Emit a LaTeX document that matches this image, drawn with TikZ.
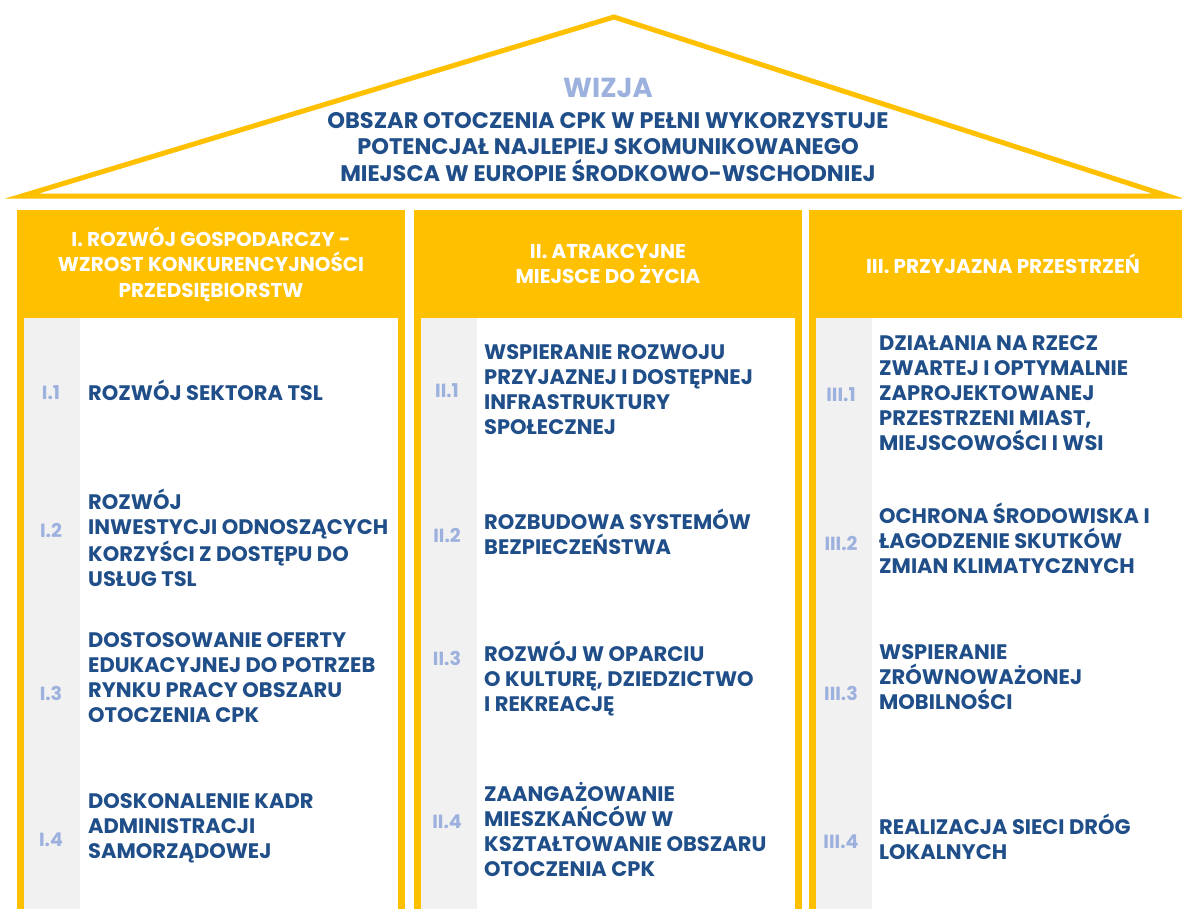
\documentclass[tikz,border=0pt]{standalone}
\usepackage{fontspec}
\setmainfont{Poppins}
\usepackage{tikz}

\definecolor{cpkyellow}{HTML}{FFC000}
\definecolor{cpkblue}{HTML}{1F4E89}
\definecolor{cpklight}{HTML}{9DB1DE}
\definecolor{cpkgray}{HTML}{F1F1F1}

\begin{document}
\begin{tikzpicture}[x=1pt,y=-1pt,%
        head/.style={fill=cpkyellow, text=white, align=center,%
                        inner sep=0pt, minimum width=388, minimum height=108,%
                        font=\bfseries\fontsize{20}{25.5}\selectfont},
        lab/.style={text=cpklight, inner sep=0pt,%
                        font=\bfseries\fontsize{19}{20}\selectfont},
        item/.style={text=cpkblue, align=left, inner sep=0pt, anchor=base west,%
                        font=\bfseries\fontsize{21}{25}\selectfont}]
    \useasboundingbox[fill=white] (0,0) rectangle (1182,908);
    \draw[cpkyellow, line width=5pt] (22,196) -- (614,17) -- (1168,196) -- cycle;
    \node (wizja) [text=cpklight, font=\bfseries\fontsize{27.5}{30}\selectfont]
        at (608,88) {WIZJA};
    \node (vision) [text=cpkblue, align=center,%
            font=\bfseries\fontsize{22.5}{26.5}\selectfont] at (608,147)
        {OBSZAR OTOCZENIA CPK W PEŁNI WYKORZYSTUJE\\
         POTENCJAŁ NAJLEPIEJ SKOMUNIKOWANEGO\\
         MIEJSCA W EUROPIE ŚRODKOWO-WSCHODNIEJ};
    \foreach \x in {17,414,809} {
        \fill[cpkyellow] (\x,318) rectangle +(388,600);
        \fill[white] (\x+7,318) rectangle +(374,600);
        \fill[cpkgray] (\x+7,318) rectangle +(56,600);
    }
    \node (head1) [head] at (211,264)
        {I. ROZWÓJ GOSPODARCZY -\\WZROST KONKURENCYJNOŚCI\\PRZEDSIĘBIORSTW};
    \node (head2) [head] at (608,264) {II. ATRAKCYJNE\\MIEJSCE DO ŻYCIA};
    \node (head3) [head] at (1003,264) {III. PRZYJAZNA PRZESTRZEŃ};
    \foreach \i/\ly/\ty/\txt in {
        1/393/400/{ROZWÓJ SEKTORA TSL},
        2/530/586/{ROZWÓJ\\INWESTYCJI ODNOSZĄCYCH\\KORZYŚCI Z DOSTĘPU DO\\USŁUG TSL},
        3/693/722/{DOSTOSOWANIE OFERTY\\EDUKACYJNEJ DO POTRZEB\\RYNKU PRACY OBSZARU\\OTOCZENIA CPK},
        4/840/858/{DOSKONALENIE KADR\\ADMINISTRACJI\\SAMORZĄDOWEJ}} {
        \node (lab1\i) [lab] at (51,\ly) {I.\i};
        \node (it1\i) [item] at (88,\ty) {\txt};
    }
    \foreach \i/\ly/\ty/\txt in {
        1/391/434/{WSPIERANIE ROZWOJU\\PRZYJAZNEJ I DOSTĘPNEJ\\INFRASTRUKTURY\\SPOŁECZNEJ},
        2/535/554/{ROZBUDOWA SYSTEMÓW\\BEZPIECZEŃSTWA},
        3/658/711/{ROZWÓJ W OPARCIU\\O KULTURĘ, DZIEDZICTWO\\I REKREACJĘ},
        4/822/876/{ZAANGAŻOWANIE\\MIESZKAŃCÓW W\\KSZTAŁTOWANIE OBSZARU\\OTOCZENIA CPK}} {
        \node (lab2\i) [lab] at (447,\ly) {II.\i};
        \node (it2\i) [item] at (484,\ty) {\txt};
    }
    \foreach \i/\ly/\ty/\txt in {
        1/395/450/{DZIAŁANIA NA RZECZ\\ZWARTEJ I OPTYMALNIE\\ZAPROJEKTOWANEJ\\PRZESTRZENI MIAST,\\MIEJSCOWOŚCI I WSI},
        2/543/573/{OCHRONA ŚRODOWISKA I\\ŁAGODZENIE SKUTKÓW\\ZMIAN KLIMATYCZNYCH},
        3/693/709/{WSPIERANIE\\ZRÓWNOWAŻONEJ\\MOBILNOŚCI},
        4/842/859/{REALIZACJA SIECI DRÓG\\LOKALNYCH}} {
        \node (lab3\i) [lab] at (841,\ly) {III.\i};
        \node (it3\i) [item] at (879,\ty) {\txt};
    }
\end{tikzpicture}
\end{document}
